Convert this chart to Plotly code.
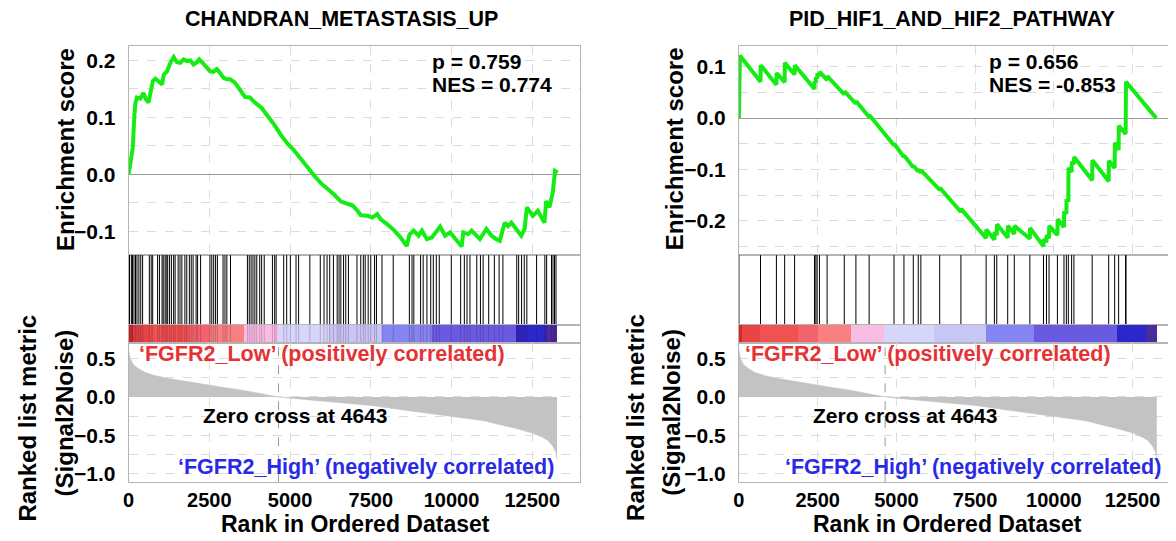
import plotly.graph_objects as go

# page body has an 8px margin, so the figure is offset by 8px; size it to the visible window
PAGE_OFF = 8
W, H = 1176 - PAGE_OFF, 541 - PAGE_OFF

# ---------------- data ----------------
N_GENES = 13270
ZERO_CROSS = 4643
X_TICKS = [0, 2500, 5000, 7500, 10000, 12500]

# ranked list metric (Signal2Noise), shared by both panels
rank_pts = [0, 50, 150, 300, 500, 800, 1300, 2000, 2500, 3000, 3500, 4000, 4643,
            5500, 6500, 7500, 8500, 9500, 10000, 10500, 11000, 11500, 12000,
            12500, 12800, 13000, 13150, 13230, 13270]
metric_vals = [0.62, 0.50, 0.42, 0.37, 0.32, 0.28, 0.235, 0.185, 0.155, 0.12, 0.09, 0.05, 0.0,
               -0.035, -0.075, -0.11, -0.17, -0.225, -0.25, -0.28, -0.31, -0.36, -0.41,
               -0.47, -0.52, -0.57, -0.65, -0.72, -0.82]

# colour bar blocks (rank edges + colours)
cbar_edges = [0, 110, 660, 1870, 2500, 3550, 4610, 6180, 7830, 9380, 12000, 12930, 13270]
cbar_colors = ['#d42a2a', '#e84444', '#f05252', '#f2636e', '#f88080', '#f9bde4',
               '#d6d6fa', '#c8c6f5', '#8484f2', '#6a5ae2', '#2a28c8', '#4a2ca0']

# ---- panel 1: CHANDRAN_METASTASIS_UP ----
title1 = 'CHANDRAN_METASTASIS_UP'
p1, nes1 = '0.759', '0.774'
es1_rank = [0, 50, 80, 130, 170, 205, 256, 360, 462, 534, 617, 750, 832, 935, 1037, 1089,
            1191, 1294, 1397, 1500, 1600, 1705, 1807, 1910, 2012, 2115, 2186, 2290, 2423,
            2525, 2628, 2730, 2833, 2936, 3038, 3141, 3294, 3448, 3602, 3756, 3910, 4115,
            4320, 4526, 4731, 4936, 5141, 5346, 5552, 5757, 5962, 6167, 6373, 6578, 6783,
            6937, 7090, 7193, 7398, 7552, 7699, 7809, 8014, 8219, 8425, 8615, 8700, 8827,
            8981, 9084, 9238, 9392, 9648, 9802, 9956, 10315, 10366, 10520, 10623, 10879,
            11084, 11238, 11392, 11495, 11649, 11751, 11854, 12008, 12162, 12264, 12336,
            12521, 12675, 12880, 12931, 13034, 13137, 13209, 13290]
es1_val = [0.000, 0.018, 0.032, 0.047, 0.096, 0.123, 0.135, 0.133, 0.143, 0.132, 0.126, 0.164,
           0.168, 0.164, 0.158, 0.175, 0.181, 0.196, 0.206, 0.197, 0.196, 0.202, 0.199, 0.200,
           0.193, 0.197, 0.202, 0.196, 0.187, 0.181, 0.180, 0.185, 0.178, 0.170, 0.167, 0.167,
           0.161, 0.149, 0.136, 0.135, 0.126, 0.117, 0.102, 0.086, 0.068, 0.053, 0.041, 0.026,
           0.012, -0.003, -0.016, -0.025, -0.036, -0.048, -0.052, -0.055, -0.064, -0.072,
           -0.073, -0.076, -0.070, -0.079, -0.088, -0.098, -0.111, -0.126, -0.106, -0.099,
           -0.108, -0.099, -0.114, -0.111, -0.092, -0.108, -0.102, -0.127, -0.102, -0.105,
           -0.099, -0.114, -0.096, -0.108, -0.114, -0.117, -0.085, -0.091, -0.085, -0.096,
           -0.108, -0.096, -0.058, -0.073, -0.064, -0.085, -0.047, -0.058, -0.032, 0.006, 0.003]
hits1 = [28, 86, 120, 167, 213, 260, 318, 376, 434, 642, 700, 746, 897, 955, 1036, 1071, 1129,
         1164, 1210, 1268, 1326, 1395, 1441, 1534, 1592, 1650, 1743, 1801, 1882, 1940, 1998,
         2091, 2137, 2230, 2519, 2577, 2635, 2694, 2750, 2925, 2984, 3042, 3156, 3680, 3736,
         3793, 3852, 3910, 3969, 4061, 4120, 4200, 4455, 4523, 4569, 4803, 4896, 5010, 5185,
         5265, 5613, 5936, 6053, 6146, 6229, 6343, 6460, 6518, 6574, 6657, 6725, 6808, 7073,
         7190, 7270, 7328, 7420, 7500, 7617, 7676, 7848, 8196, 8695, 8778, 8834, 9043, 9123,
         9240, 9357, 9437, 9530, 9622, 9994, 10284, 10398, 10481, 10573, 10783, 10897, 10980,
         11152, 11328, 11475, 11593, 12021, 12080, 12171, 12254, 12334, 12636, 12892, 12947,
         13098, 13144, 13191, 13237]

# ---- panel 2: PID_HIF1_AND_HIF2_PATHWAY ----
title2 = 'PID_HIF1_AND_HIF2_PATHWAY'
p2, nes2 = '0.656', '-0.853'
es2_rank = [0, 0, 30, 685, 691, 1190, 1196, 1452, 1458, 1768, 1774, 2399, 2405, 2443, 2449,
            2484, 2490, 2557, 2563, 2800, 2806, 3346, 3352, 3715, 3721, 4135, 4141, 4924, 4930,
            5240, 5246, 5537, 5543, 5695, 5701, 5777, 5783, 6376, 6382, 7050, 7056, 7850, 7856,
            8112, 8118, 8188, 8194, 8535, 8541, 8744, 8750, 9239, 9245, 9671, 9677, 9766, 9772,
            9848, 9854, 10114, 10120, 10322, 10328, 10398, 10404, 10461, 10467, 10565, 10571,
            10638, 10644, 11218, 11224, 11742, 11748, 11932, 11938, 12058, 12064, 12280, 12286,
            12292, 13250]
es2_val = [0.0, 0.068, 0.122, 0.071, 0.103, 0.065, 0.088, 0.070, 0.108, 0.085, 0.103, 0.057,
           0.072, 0.069, 0.080, 0.077, 0.087, 0.082, 0.090, 0.074, 0.082, 0.046, 0.052, 0.028,
           0.033, 0.002, 0.006, -0.053, -0.050, -0.076, -0.073, -0.096, -0.093, -0.104, -0.100,
           -0.106, -0.102, -0.140, -0.136, -0.183, -0.177, -0.234, -0.217, -0.237, -0.222,
           -0.228, -0.207, -0.233, -0.210, -0.226, -0.210, -0.235, -0.214, -0.250, -0.236,
           -0.242, -0.228, -0.234, -0.210, -0.228, -0.197, -0.212, -0.181, -0.187, -0.158,
           -0.163, -0.097, -0.105, -0.085, -0.090, -0.076, -0.121, -0.082, -0.123, -0.083,
           -0.097, -0.048, -0.062, -0.015, -0.031, 0.020, 0.071, 0.0]
hits2 = [0, 685, 1190, 1452, 1768, 2399, 2443, 2484, 2557, 2800, 3346, 3715, 4135, 4924, 5240,
         5537, 5695, 5777, 6376, 7050, 7850, 8112, 8188, 8535, 8744, 9239, 9671, 9766, 9848,
         10114, 10322, 10398, 10461, 10565, 10638, 11218, 11742, 11932, 12058, 12280, 12292]

# ---------------- styling / layout ----------------
FONT = 'Liberation Sans, Arial, sans-serif'
GREEN = '#14ec14'
FRAME = '#b4b4b4'
GRID = '#dcdcdc'
RED_T = '#e63234'
BLUE_T = '#2a2ae6'


def fx(px):
    return (px - PAGE_OFF) / W


def fy(py):
    return 1 - (py - PAGE_OFF) / H


ES_DOM = [fy(256.5), fy(46.5)]
HIT_DOM = [fy(326.5), fy(256.5)]
CB_DOM = [fy(345), fy(326.5)]
RK_DOM = [fy(485), fy(345)]

panels = [
    dict(title=title1, p=p1, nes=nes1, es_r=es1_rank, es_v=es1_val, hits=hits1,
         xdom=[fx(123.3), fx(577.3)], xmax=13977, es_range=[-0.142, 0.225],
         es_ticks=[-0.1, 0.0, 0.1, 0.2], title_x=337, esl_x=60, rk1_x=22, rk2_x=59,
         xt_x=352, stat_x=426.7, red_x=131.7, zc_x=291, blue_x=553.3, overlay=True),
    dict(title=title2, p=p2, nes=nes2, es_r=es2_rank, es_v=es2_val, hits=hits2,
         xdom=[fx(737.3), 1.0], xmax=13848, es_range=[-0.267, 0.140],
         es_ticks=[-0.2, -0.1, 0.0, 0.1], title_x=952, esl_x=672, rk1_x=633, rk2_x=670,
         xt_x=947, stat_x=986.7, red_x=741.7, zc_x=904, blue_x=1164, overlay=False),
]

fig = go.Figure()
layout = dict(width=W, height=H, margin=dict(l=0, r=0, t=0, b=0),
              paper_bgcolor='white', plot_bgcolor='white', showlegend=False,
              font=dict(family=FONT, size=21, color='black', weight='bold'),
              bargap=0, annotations=[], shapes=[])

cb_centers = [(a + b) / 2 for a, b in zip(cbar_edges[:-1], cbar_edges[1:])]
cb_widths = [b - a for a, b in zip(cbar_edges[:-1], cbar_edges[1:])]

for i, P in enumerate(panels):
    k = i * 4
    ax = [str(k + j) if k + j > 1 else '' for j in range(1, 5)]
    # ES curve
    fig.add_trace(go.Scatter(x=P['es_r'], y=P['es_v'], mode='lines',
                             line=dict(color=GREEN, width=4), xaxis='x' + ax[0], yaxis='y' + ax[0],
                             hoverinfo='skip'))
    # hits
    hx, hy = [], []
    for h in P['hits']:
        hx += [h, h, None]
        hy += [0, 1, None]
    fig.add_trace(go.Scatter(x=hx, y=hy, mode='lines', line=dict(color='black', width=1),
                             xaxis='x' + ax[1], yaxis='y' + ax[1], hoverinfo='skip'))
    # colour bar
    fig.add_trace(go.Bar(x=cb_centers, y=[1] * len(cb_centers), width=cb_widths, base=0,
                         marker=dict(color=cbar_colors, line=dict(width=0)),
                         xaxis='x' + ax[2], yaxis='y' + ax[2], hoverinfo='skip'))
    if P['overlay']:
        fig.add_trace(go.Scatter(x=hx, y=hy, mode='lines',
                                 line=dict(color='rgba(60,0,40,0.22)', width=1),
                                 xaxis='x' + ax[2], yaxis='y' + ax[2], hoverinfo='skip'))
    # ranked list metric
    fig.add_trace(go.Scatter(x=rank_pts, y=metric_vals, mode='lines', fill='tozeroy',
                             fillcolor='#c3c3c3', line=dict(color='#c3c3c3', width=0.5),
                             xaxis='x' + ax[3], yaxis='y' + ax[3], hoverinfo='skip'))

    base_x = dict(domain=P['xdom'], range=[0, P['xmax']], showline=True, mirror=True,
                  linecolor=FRAME, linewidth=1, zeroline=False, ticks='',
                  tickvals=X_TICKS, tickformat='d', showticklabels=False, showgrid=True,
                  gridcolor=GRID, griddash='dash', gridwidth=1)
    base_y = dict(showline=True, mirror=True, linecolor=FRAME, linewidth=1, ticks='')
    # ES axes
    layout['xaxis' + ax[0]] = dict(base_x, anchor='y' + ax[0])
    layout['yaxis' + ax[0]] = dict(base_y, domain=ES_DOM, range=P['es_range'], anchor='x' + ax[0],
                                   tickvals=P['es_ticks'], tickformat='.1f', showgrid=True,
                                   gridcolor=GRID, griddash='dash', zeroline=True,
                                   zerolinecolor='#9a9a9a', zerolinewidth=1,
                                   tickfont=dict(size=21), ticklabelstandoff=8,
                                   minor=dict(dtick=0.05, tick0=0, showgrid=True, gridcolor=GRID,
                                              griddash='dash', ticks=''))
    # hits axes
    layout['xaxis' + ax[1]] = dict(base_x, anchor='y' + ax[1], showgrid=False)
    layout['yaxis' + ax[1]] = dict(base_y, domain=HIT_DOM, range=[0, 1], anchor='x' + ax[1],
                                   showticklabels=False, showgrid=False, zeroline=False)
    # colour bar axes
    layout['xaxis' + ax[2]] = dict(base_x, anchor='y' + ax[2], showgrid=False)
    layout['yaxis' + ax[2]] = dict(base_y, domain=CB_DOM, range=[0, 1], anchor='x' + ax[2],
                                   showticklabels=False, showgrid=False, zeroline=False)
    # ranked axes
    layout['xaxis' + ax[3]] = dict(base_x, anchor='y' + ax[3], showticklabels=True,
                                   tickfont=dict(size=20), ticklabelstandoff=0)
    layout['yaxis' + ax[3]] = dict(base_y, domain=RK_DOM, range=[-1.11, 0.70], anchor='x' + ax[3],
                                   tickvals=[-1.0, -0.5, 0.0, 0.5], tickformat='.1f',
                                   showgrid=True, gridcolor=GRID, griddash='dash', zeroline=False,
                                   tickfont=dict(size=21), ticklabelstandoff=8,
                                   minor=dict(dtick=0.25, tick0=0, showgrid=True, gridcolor=GRID,
                                              griddash='dash', ticks=''))

    # zero-cross dashed line
    layout['shapes'].append(dict(type='line', xref='x' + ax[3], yref='y' + ax[3] + ' domain',
                                 x0=ZERO_CROSS, x1=ZERO_CROSS, y0=0, y1=1,
                                 line=dict(color='#9a9a9a', width=1, dash='dash'), layer='above'))

    A = layout['annotations']
    A.append(dict(text=P['title'], x=fx(P['title_x']), y=fy(19), xref='paper', yref='paper',
                  showarrow=False, font=dict(size=21.5), xanchor='center', yanchor='middle'))
    A.append(dict(text='Enrichment score', x=fx(P['esl_x']), y=fy(150), xref='paper',
                  yref='paper', showarrow=False, textangle=-90, font=dict(size=24),
                  xanchor='center', yanchor='middle'))
    A.append(dict(text='Ranked list metric', x=fx(P['rk1_x']), y=fy(420),
                  xref='paper', yref='paper', showarrow=False, textangle=-90,
                  font=dict(size=24), xanchor='center', yanchor='middle'))
    A.append(dict(text='(Signal2Noise)', x=fx(P['rk2_x']), y=fy(415),
                  xref='paper', yref='paper', showarrow=False, textangle=-90,
                  font=dict(size=24), xanchor='center', yanchor='middle'))
    A.append(dict(text='Rank in Ordered Dataset', x=fx(P['xt_x']), y=fy(527), xref='paper',
                  yref='paper', showarrow=False, font=dict(size=23), xanchor='center',
                  yanchor='middle'))
    A.append(dict(text='p = ' + P['p'], x=fx(P['stat_x']), y=fy(61.7), xref='paper', yref='paper',
                  showarrow=False, font=dict(size=21), xanchor='left', yanchor='middle'))
    A.append(dict(text='NES = ' + P['nes'], x=fx(P['stat_x']), y=fy(85), xref='paper',
                  yref='paper', showarrow=False, font=dict(size=21), xanchor='left',
                  yanchor='middle'))
    A.append(dict(text='\u2018FGFR2_Low\u2019 (positively correlated)', x=fx(P['red_x']), y=fy(356),
                  xref='paper', yref='paper', showarrow=False, font=dict(size=21.5, color=RED_T),
                  xanchor='left', yanchor='middle'))
    A.append(dict(text='Zero cross at %d' % ZERO_CROSS, x=fx(P['zc_x']), y=fy(418), xref='paper',
                  yref='paper', showarrow=False, font=dict(size=21), xanchor='center',
                  yanchor='middle'))
    A.append(dict(text='\u2018FGFR2_High\u2019 (negatively correlated)', x=fx(P['blue_x']),
                  y=fy(470), xref='paper', yref='paper', showarrow=False,
                  font=dict(size=21.5, color=BLUE_T), xanchor='right', yanchor='middle'))

fig.update_layout(**layout)
fig.write_html('out.html')
